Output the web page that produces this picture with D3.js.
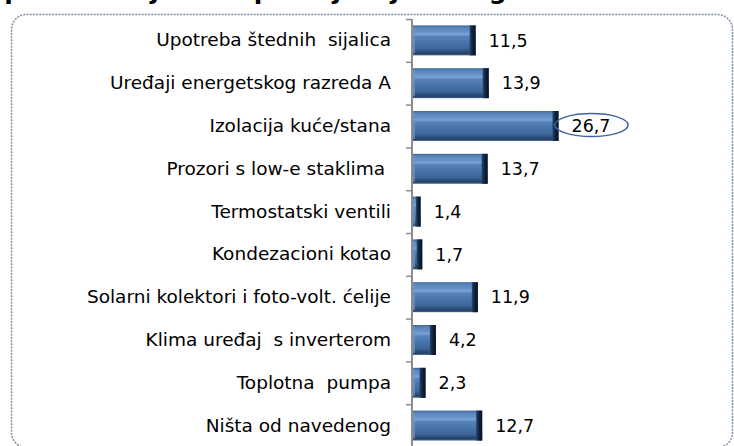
<!DOCTYPE html>
<html lang="sr">
<head>
  <meta charset="UTF-8">
  <title>Mjere energetske efikasnosti</title>
  <script src="https://cdn.jsdelivr.net/npm/d3@7/dist/d3.min.js"></script>
  <style>
    body { margin: 0; background: #fff; }
    svg text { font-family: "DejaVu Sans", Verdana, sans-serif; fill: #000; }
  </style>
</head>
<body>

<script>
  var categories = [
    'Upotreba štednih  sijalica',
    'Uređaji energetskog razreda A',
    'Izolacija kuće/stana',
    'Prozori s low-e staklima ',
    'Termostatski ventili',
    'Kondezacioni kotao',
    'Solarni kolektori i foto-volt. ćelije',
    'Klima uređaj  s inverterom',
    'Toplotna  pumpa',
    'Ništa od navedenog'
  ];
  var values = [11.5, 13.9, 26.7, 13.7, 1.4, 1.7, 11.9, 4.2, 2.3, 12.7];
  var titleText = 'Upotreba mjera za poboljšanje energetske efikasnosti';

  var W = 734, H = 446;
  var svg = d3.select('body').append('svg').attr('width', W).attr('height', H);
  var defs = svg.append('defs');

  // bar gradients (3d bevel look)
  var gv = defs.append('linearGradient').attr('id', 'barV').attr('x1', 0).attr('y1', 0).attr('x2', 0).attr('y2', 1);
  [[0, '#3d6698'], [0.07, '#5882b8'], [0.2, '#6690c6'], [0.3, '#7aa4d8'], [0.37, '#5582ba'],
   [0.6, '#4672a8'], [0.78, '#3e6699'], [0.86, '#2f5283'], [0.94, '#253f63'], [1, '#4a6d96']]
    .forEach(function(s){ gv.append('stop').attr('offset', s[0]).attr('stop-color', s[1]); });

  var gh = defs.append('linearGradient').attr('id', 'barEnd').attr('x1', 0).attr('y1', 0).attr('x2', 1).attr('y2', 0);
  [[0, '#24446e'], [0.5, '#102238'], [1, '#07111e']]
    .forEach(function(s){ gh.append('stop').attr('offset', s[0]).attr('stop-color', s[1]); });

  // title, cut off above the frame as in the source
  svg.append('text')
    .attr('x', -16).attr('y', -1)
    .style('font-size', '25px').style('font-weight', 'bold')
    .text(titleText);

  // dotted rounded frame
  svg.append('rect')
    .attr('x', 11.5).attr('y', 14.5)
    .attr('width', 721).attr('height', 433)
    .attr('rx', 15).attr('ry', 15)
    .attr('fill', 'none')
    .attr('stroke', '#7f8ea6')
    .attr('stroke-width', 1.5)
    .attr('stroke-dasharray', '2,1.2');

  var y = d3.scaleBand().domain(categories).range([19, 447]).paddingInner(0.3).paddingOuter(0.15);
  var x = d3.scaleLinear().domain([0, 30]).range([413, 413 + 5.45 * 30]);
  var fmt = d3.formatLocale({decimal: ',', thousands: '.', grouping: [3], currency: ['', '']}).format('.1f');

  // category labels
  var labelAxis = svg.append('g')
    .attr('transform', 'translate(412,0)')
    .call(d3.axisLeft(y).tickSize(0).tickPadding(21));
  labelAxis.select('.domain').remove();
  labelAxis.selectAll('text').style('font-size', '18.5px').style('white-space', 'pre').attr('xml:space', 'preserve');

  // boundary ticks + axis line
  var tickScale = d3.scaleLinear().domain([0, categories.length]).range([19, 447]);
  var tickAxis = svg.append('g')
    .attr('transform', 'translate(412,0)')
    .call(d3.axisLeft(tickScale).ticks(categories.length).tickSize(6).tickFormat(''));
  tickAxis.selectAll('line').attr('stroke', '#8c8c8c').attr('stroke-width', 1.5);
  tickAxis.select('.domain').attr('stroke', '#8c8c8c').attr('stroke-width', 2)
    .attr('d', 'M0,' + tickScale(0) + 'V' + (tickScale(categories.length) + 5));

  // bars
  var bars = svg.selectAll('g.bar').data(values).enter().append('g').attr('class', 'bar')
    .attr('transform', function(d, i){ return 'translate(0,' + y(categories[i]) + ')'; });
  var bh = y.bandwidth();

  bars.append('rect')
    .attr('x', x(0))
    .attr('width', function(d){ return x(d) - x(0); })
    .attr('height', bh)
    .attr('fill', 'url(#barV)');
  // left bevel
  bars.append('rect')
    .attr('x', x(0))
    .attr('y', 2)
    .attr('width', 2)
    .attr('height', bh - 4)
    .attr('fill', '#6e95c6')
    .attr('opacity', 0.7);
  // dark right end
  bars.append('rect')
    .attr('x', function(d){ return x(d) - Math.min(6, (x(d) - x(0)) * 0.6); })
    .attr('width', function(d){ return Math.min(6, (x(d) - x(0)) * 0.6); })
    .attr('height', bh)
    .attr('fill', 'url(#barEnd)');

  // value labels
  bars.append('text')
    .attr('x', function(d){ return x(d) + 13; })
    .attr('y', bh / 2)
    .attr('dy', '0.36em')
    .style('font-size', '17.5px')
    .text(function(d){ return fmt(d); });

  // highlight the largest value
  var maxI = d3.maxIndex(values);
  svg.append('ellipse')
    .attr('cx', x(values[maxI]) + 33)
    .attr('cy', y(categories[maxI]) + bh / 2 - 1)
    .attr('rx', 36.5).attr('ry', 11.5)
    .attr('fill', 'none')
    .attr('stroke', '#3e64a0')
    .attr('stroke-width', 1.5);
</script>

</body>
</html>
